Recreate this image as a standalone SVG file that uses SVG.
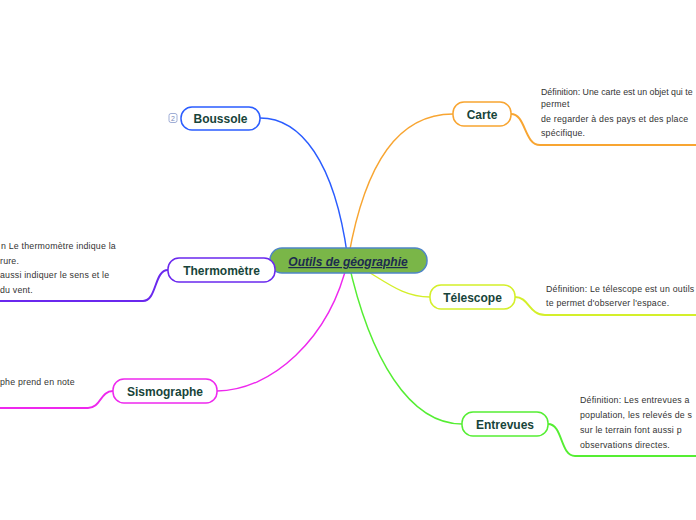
<svg xmlns="http://www.w3.org/2000/svg" width="696" height="520" viewBox="0 0 696 520">
<style>
.node{fill:#fff;stroke-width:1.5}
.lbl{font-family:"Liberation Sans",Arial,sans-serif;font-weight:bold;font-size:12px;fill:#17443a;text-anchor:middle}
.note{font-family:"Liberation Sans",Arial,sans-serif;font-size:8.8px;letter-spacing:0.2px;fill:#333}
.c{fill:none;stroke-width:1.4}
.u{fill:none;stroke-width:2}
</style>
<rect width="696" height="520" fill="#fff"/>
<g id="connectors">
<path class="c" stroke="#2a5cff" d="M348,260 C335,160 300,118 260,118"/>
<path class="c" stroke="#f8a531" d="M348,260 C365,160 400,114 453,114"/>
<path class="c" stroke="#6a28ee" d="M348,260 C320,262 300,270 275,270"/>
<path class="c" stroke="#d4ef2a" d="M348,260 C385,280 400,297 430,297"/>
<path class="c" stroke="#ee28ee" d="M348,260 C330,340 270,391 217,391"/>
<path class="c" stroke="#55ee33" d="M348,260 C370,360 410,424 462,424"/>
<path class="u" stroke="#f8a531" d="M511,114 C526,114 524,145 540,145 L696,145"/>
<path class="u" stroke="#d4ef2a" d="M515,297 C529,297 529,315 545,315 L696,315"/>
<path class="u" stroke="#55ee33" d="M548,424 C563,424 560,456 575,456 L696,456"/>
<path class="u" stroke="#6a28ee" d="M168,270 C154,270 157,301 143,301 L0,301"/>
<path class="u" stroke="#ee28ee" d="M113,391 C100,391 101,408 88,408 L0,408"/>
</g>
<g id="central">
<rect x="270" y="248" width="157" height="25" rx="12" fill="#7ab648" stroke="#4f86c6" stroke-width="1.5"/>
<text x="348" y="266" font-family="Liberation Sans,Arial,sans-serif" font-weight="bold" font-style="italic" font-size="12" fill="#1c2b4e" text-anchor="middle" text-decoration="underline">Outils de géographie</text>
</g>
<g id="boussole">
<rect class="node" x="181" y="107" width="79" height="23" rx="11" stroke="#2a5cff"/>
<text class="lbl" x="220.5" y="123">Boussole</text>
<rect x="169" y="113.5" width="8" height="9" rx="2" fill="#fff" stroke="#8899cc" stroke-width="0.8"/>
<text x="173" y="121" font-family="Liberation Sans,Arial,sans-serif" font-size="7" fill="#7788bb" text-anchor="middle">2</text>
</g>
<g id="carte">
<rect class="node" x="453" y="102" width="58" height="24" rx="11" stroke="#f8a531"/>
<text class="lbl" x="482" y="118.5">Carte</text>
<text class="note" x="541" y="95" style="letter-spacing:0">Définition: Une carte est un objet qui te</text>
<text class="note" x="541" y="107">permet</text>
<text class="note" x="541" y="122">de regarder à des pays et des place</text>
<text class="note" x="541" y="136">spécifique.</text>
</g>
<g id="thermometre">
<rect class="node" x="168" y="258" width="107" height="24" rx="11" stroke="#6a28ee"/>
<text class="lbl" x="221.5" y="274.5">Thermomètre</text>
<text class="note" x="1" y="249">n Le thermomètre indique la</text>
<text class="note" x="0" y="264">rure.</text>
<text class="note" x="0" y="278">aussi indiquer le sens et le</text>
<text class="note" x="0" y="293">du vent.</text>
</g>
<g id="telescope">
<rect class="node" x="430" y="285" width="85" height="24" rx="11" stroke="#d4ef2a"/>
<text class="lbl" x="472.5" y="301.5">Télescope</text>
<text class="note" x="546" y="292">Définition: Le télescope est un outils</text>
<text class="note" x="546" y="306">te permet d'observer l'espace.</text>
</g>
<g id="sismographe">
<rect class="node" x="113" y="379" width="104" height="24" rx="11" stroke="#ee28ee"/>
<text class="lbl" x="165" y="395.5">Sismographe</text>
<text class="note" x="0" y="385">phe prend en note</text>
</g>
<g id="entrevues">
<rect class="node" x="462" y="412" width="86" height="24" rx="11" stroke="#55ee33"/>
<text class="lbl" x="505" y="428.5">Entrevues</text>
<text class="note" x="580" y="403">Définition: Les entrevues a</text>
<text class="note" x="580" y="418">population, les relevés de s</text>
<text class="note" x="580" y="433">sur le terrain font aussi p</text>
<text class="note" x="580" y="448">observations directes.</text>
</g>
</svg>
